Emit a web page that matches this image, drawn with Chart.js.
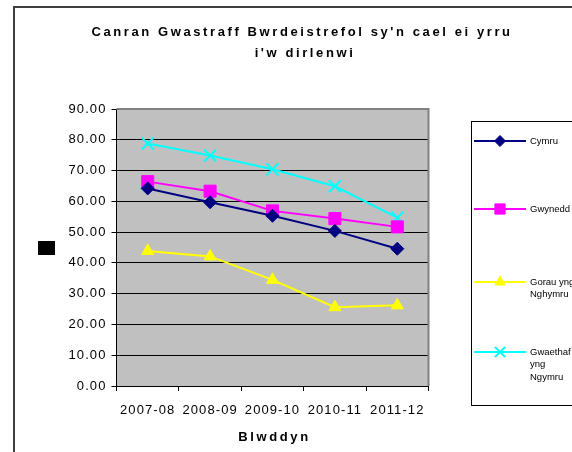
<!DOCTYPE html>
<html>
<head>
<meta charset="utf-8">
<script src="https://cdn.jsdelivr.net/npm/chart.js@4/dist/chart.umd.min.js"></script>
<style>
html,body{margin:0;padding:0;background:#fff;}
#wrap{width:572px;height:452px;position:relative;}
</style>
</head>
<body>
<div id="wrap"><canvas id="c" width="572" height="452"></canvas></div>
<script>
const categories = ['2007-08', '2008-09', '2009-10', '2010-11', '2011-12'];
const cymru    = [64.2, 59.7, 55.3, 50.4, 44.6];
const gwynedd  = [66.4, 63.3, 56.9, 54.4, 51.7];
const goreu    = [43.9, 42.1, 34.5, 25.6, 26.2];
const gwaethaf = [78.8, 74.9, 70.4, 64.9, 54.7];
const seriesNames = ['Cymru', 'Gwynedd', 'Gorau yng Nghymru', 'Gwaethaf yng Ngymru'];
const legendLines = [['Cymru'], ['Gwynedd'], ['Gorau yng', 'Nghymru'], ['Gwaethaf', 'yng', 'Ngymru']];
const titleLines = ["Canran Gwastraff Bwrdeistrefol sy'n cael ei yrru", "i'w dirlenwi"];
const xTitle = 'Blwddyn';
const yTicks = [0, 10, 20, 30, 40, 50, 60, 70, 80, 90];

const FONT = '"Liberation Sans", Arial, sans-serif';

const decor = {
  id: 'decor',
  beforeDraw(chart) {
    const {ctx, chartArea: a} = chart;
    ctx.save();
    ctx.fillStyle = '#ffffff';
    ctx.fillRect(0, 0, chart.width, chart.height);
    ctx.fillStyle = '#c0c0c0';
    ctx.fillRect(a.left, a.top, a.right - a.left, a.bottom - a.top);
    ctx.restore();
    ctx.letterSpacing = '1.1px';
  },
  beforeDatasetsDraw(chart) {
    const {ctx, chartArea: a} = chart;
    ctx.letterSpacing = '0px';
    ctx.save();
    ctx.strokeStyle = '#808080';
    ctx.lineWidth = 2;
    ctx.beginPath();
    ctx.moveTo(a.left, a.top);
    ctx.lineTo(a.right, a.top);
    ctx.lineTo(a.right, a.bottom);
    ctx.stroke();
    ctx.restore();
  },
  afterDraw(chart) {
    const {ctx, chartArea: a} = chart;
    ctx.save();
    // outer border (only left/top visible)
    ctx.strokeStyle = '#404040';
    ctx.lineWidth = 2;
    ctx.strokeRect(14, 7, 700, 600);
    // title
    ctx.fillStyle = '#000';
    ctx.font = 'bold 13px ' + FONT;
    ctx.textAlign = 'center';
    ctx.textBaseline = 'middle';
    ctx.letterSpacing = '2.6px';
    ctx.fillText(titleLines[0], 302, 32);
    ctx.fillText(titleLines[1], 305, 53);
    // x axis title
    ctx.fillText(xTitle, (a.left + a.right) / 2 + 2, 437);
    ctx.letterSpacing = '0px';
    // y axis title placeholder (black block)
    ctx.fillRect(38, 241, 17, 14);
    // legend
    const lx = 471, ly = 121, lw = 200, lh = 284;
    ctx.fillStyle = '#fff';
    ctx.fillRect(lx, ly, lw, lh);
    ctx.strokeStyle = '#000';
    ctx.lineWidth = 1;
    ctx.strokeRect(lx + 0.5, ly + 0.5, lw, lh);
    const ys = [141, 209, 282, 352];
    chart.data.datasets.forEach((ds, i) => {
      const y = ys[i];
      ctx.strokeStyle = ds.borderColor;
      ctx.fillStyle = ds.borderColor;
      ctx.lineWidth = 2;
      ctx.beginPath();
      ctx.moveTo(474, y);
      ctx.lineTo(526, y);
      ctx.stroke();
      ctx.lineWidth = ds.pointBorderWidth || 1;
      Chart.helpers.drawPoint(ctx, {
        pointStyle: ds.pointStyle,
        radius: ds.pointRadius * 0.85,
        borderWidth: ds.pointBorderWidth || 1,
        rotation: 0
      }, 500, y);
      ctx.fillStyle = '#000';
      ctx.font = '9.5px ' + FONT;
      ctx.textAlign = 'left';
      ctx.textBaseline = 'middle';
      legendLines[i].forEach((t, j) => ctx.fillText(t, 530, y + j * 12.5));
    });
    ctx.restore();
  }
};

const mk = (label, data, color, style, r, bw) => ({
  label, data,
  borderColor: color,
  backgroundColor: color,
  pointBackgroundColor: color,
  pointBorderColor: color,
  pointStyle: style,
  pointRadius: r,
  pointHoverRadius: r,
  pointBorderWidth: bw,
  borderWidth: 2,
  tension: 0,
  fill: false
});

new Chart(document.getElementById('c'), {
  type: 'line',
  data: {
    labels: categories,
    datasets: [
      mk(seriesNames[0], cymru, '#000080', 'rectRot', 6.5, 1),
      mk(seriesNames[1], gwynedd, '#ff00ff', 'rect', 8.5, 1),
      mk(seriesNames[2], goreu, '#ffff00', 'triangle', 7, 1),
      mk(seriesNames[3], gwaethaf, '#00ffff', 'crossRot', 8.5, 2)
    ]
  },
  options: {
    responsive: false,
    animation: false,
    devicePixelRatio: 1,
    layout: { padding: { left: 0, top: 109, right: 143.5, bottom: 0 } },
    plugins: { legend: { display: false }, title: { display: false }, tooltip: { enabled: false } },
    scales: {
      x: {
        offset: true,
        grid: { offset: true, drawOnChartArea: false, drawTicks: true, tickLength: 5, color: '#000' },
        border: { color: '#000', width: 1 },
        ticks: { color: '#000', font: { family: FONT, size: 13 }, padding: 12, maxRotation: 0, autoSkip: false },
        afterFit(s) { s.height = 66; }
      },
      y: {
        min: 0, max: 90,
        afterBuildTicks(s) { s.ticks = yTicks.map(v => ({ value: v })); },
        grid: { color: '#000', lineWidth: 1, tickLength: 5, drawTicks: true },
        border: { color: '#000', width: 1 },
        ticks: { color: '#000', font: { family: FONT, size: 13 }, padding: 5, callback: v => Number(v).toFixed(2) },
        afterFit(s) { s.width = 116.5; }
      }
    }
  },
  plugins: [decor]
});
</script>
</body>
</html>
